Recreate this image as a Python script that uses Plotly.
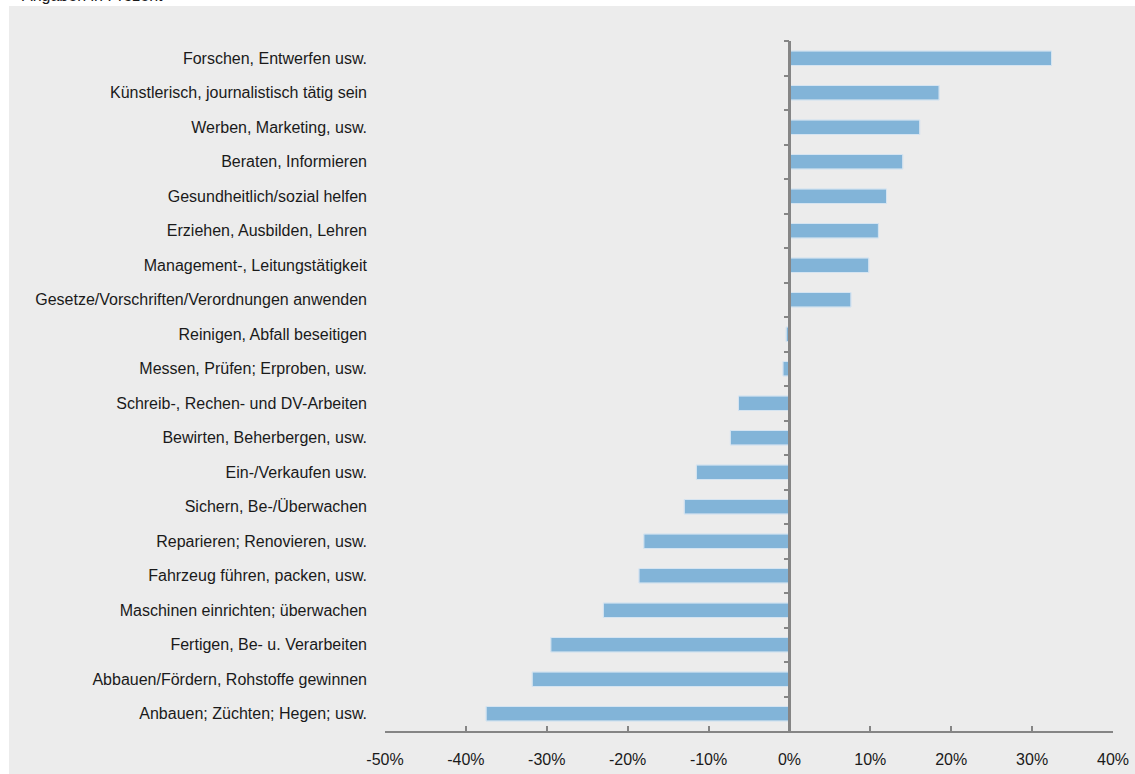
import plotly.graph_objects as go

# Tätigkeiten, von oben nach unten
taetigkeiten = [
    "Forschen, Entwerfen usw.",
    "Künstlerisch, journalistisch tätig sein",
    "Werben, Marketing, usw.",
    "Beraten, Informieren",
    "Gesundheitlich/sozial helfen",
    "Erziehen, Ausbilden, Lehren",
    "Management-, Leitungstätigkeit",
    "Gesetze/Vorschriften/Verordnungen anwenden",
    "Reinigen, Abfall beseitigen",
    "Messen, Prüfen; Erproben, usw.",
    "Schreib-, Rechen- und DV-Arbeiten",
    "Bewirten, Beherbergen, usw.",
    "Ein-/Verkaufen usw.",
    "Sichern, Be-/Überwachen",
    "Reparieren; Renovieren, usw.",
    "Fahrzeug führen, packen, usw.",
    "Maschinen einrichten; überwachen",
    "Fertigen, Be- u. Verarbeiten",
    "Abbauen/Fördern, Rohstoffe gewinnen",
    "Anbauen; Züchten; Hegen; usw.",
]

# Veränderung in Prozent
veraenderung = [
    32.4, 18.5, 16.1, 14.0, 12.0, 11.0, 9.8, 7.6, -0.4, -0.8,
    -6.3, -7.3, -11.5, -13.0, -18.0, -18.6, -23.0, -29.5, -31.8, -37.5,
]

x_ticks = [-50, -40, -30, -20, -10, 0, 10, 20, 30, 40]
x_labels = ["-50%", "-40%", "-30%", "-20%", "-10%", "0%", "10%", "20%", "30%", "40%"]

FONT = "Liberation Sans, Arial, sans-serif"
BAR = "#82b4d8"
AXIS = "#858585"

fig = go.Figure()

fig.add_trace(go.Bar(
    x=veraenderung,
    y=taetigkeiten,
    orientation="h",
    width=0.42,
    marker=dict(color=BAR, line=dict(color="#c6dbeb", width=1)),
    hoverinfo="x+y",
))

# unsichtbare Kopie, damit die Achse am Nullpunkt die Kategorien kennt
fig.add_trace(go.Bar(
    x=veraenderung,
    y=taetigkeiten,
    orientation="h",
    yaxis="y2",
    width=0.42,
    marker=dict(color="rgba(0,0,0,0)"),
    hoverinfo="skip",
    showlegend=False,
))

fig.update_layout(
    width=1135,
    height=774,
    margin=dict(l=385, r=22, t=41, b=43),
    paper_bgcolor="white",
    plot_bgcolor="#ececec",
    font=dict(family=FONT, size=16, color="#1a1a1a"),
    showlegend=False,
    barmode="overlay",
    xaxis=dict(
        range=[-50, 40],
        tickvals=x_ticks,
        ticktext=x_labels,
        ticks="inside",
        ticklen=5,
        tickcolor=AXIS,
        tickwidth=1.5,
        showline=True,
        linecolor=AXIS,
        linewidth=2,
        showgrid=False,
        zeroline=False,
        automargin=False,
        ticklabelstandoff=13,
    ),
    yaxis=dict(
        type="category",
        categoryorder="array",
        categoryarray=taetigkeiten,
        autorange="reversed",
        showline=False,
        showgrid=False,
        zeroline=False,
        ticks="",
        automargin=False,
        ticklabelstandoff=17,
    ),
    yaxis2=dict(
        type="category",
        categoryorder="array",
        categoryarray=taetigkeiten,
        autorange="reversed",
        overlaying="y",
        anchor="free",
        position=5 / 9,
        side="left",
        showline=True,
        linecolor=AXIS,
        linewidth=2.5,
        ticks="outside",
        tickson="boundaries",
        ticklen=5,
        tickcolor=AXIS,
        tickwidth=1.5,
        showticklabels=False,
        showgrid=False,
        zeroline=False,
    ),
    shapes=[dict(
        type="rect", xref="paper", yref="paper", layer="below",
        x0=-376 / 728, x1=1.1, y0=-0.2, y1=1 + 35 / 690,
        fillcolor="#ececec", line=dict(width=0),
    )],
    annotations=[dict(
        text="Angaben in Prozent",
        xref="paper", yref="paper",
        x=-365 / 728, y=1 + 35 / 690,
        xanchor="left", yanchor="bottom",
        showarrow=False,
        font=dict(family=FONT, size=16, color="#1a1a1a"),
    )],
)

fig.write_html(
    "out.html",
    config={"displayModeBar": False},
    post_script="document.body.style.margin='0';",
)
